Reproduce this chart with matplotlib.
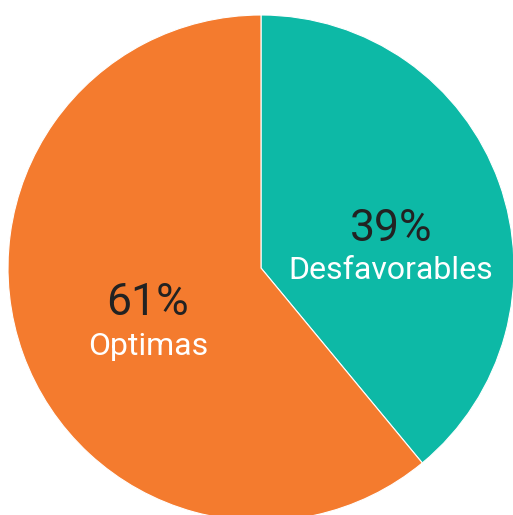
import matplotlib.pyplot as plt

labels = ["Desfavorables", "Optimas"]
values = [39, 61]
colors = ["#0db9a6", "#f47b2e"]
# text anchor positions (data units, pie radius = 1)
pct_pos = [(0.514, 0.155), (-0.447, -0.137)]
name_pos = [(0.514, -0.010), (-0.447, -0.310)]

W, H = 513, 515
cx, cy, r = 261, 268, 253

fig = plt.figure(figsize=(W / 100, H / 100), dpi=100)
ax = fig.add_axes([0, 0, 1, 1])
ax.pie(values, colors=colors, startangle=90, counterclock=False,
       wedgeprops=dict(linewidth=0.8, edgecolor="white"))

for lab, v, pp, npos in zip(labels, values, pct_pos, name_pos):
    ax.text(pp[0], pp[1], f"{v}%", ha="center", va="center",
            fontsize=32, color="#222222", family="Roboto")
    ax.text(npos[0], npos[1], lab, ha="center", va="center",
            fontsize=23, color="white", family="Roboto")

ax.set_xlim(-cx / r, (W - cx) / r)
ax.set_ylim(-(H - cy) / r, cy / r)
ax.set_aspect("equal")
ax.axis("off")

fig.savefig("out.png", dpi=100)
